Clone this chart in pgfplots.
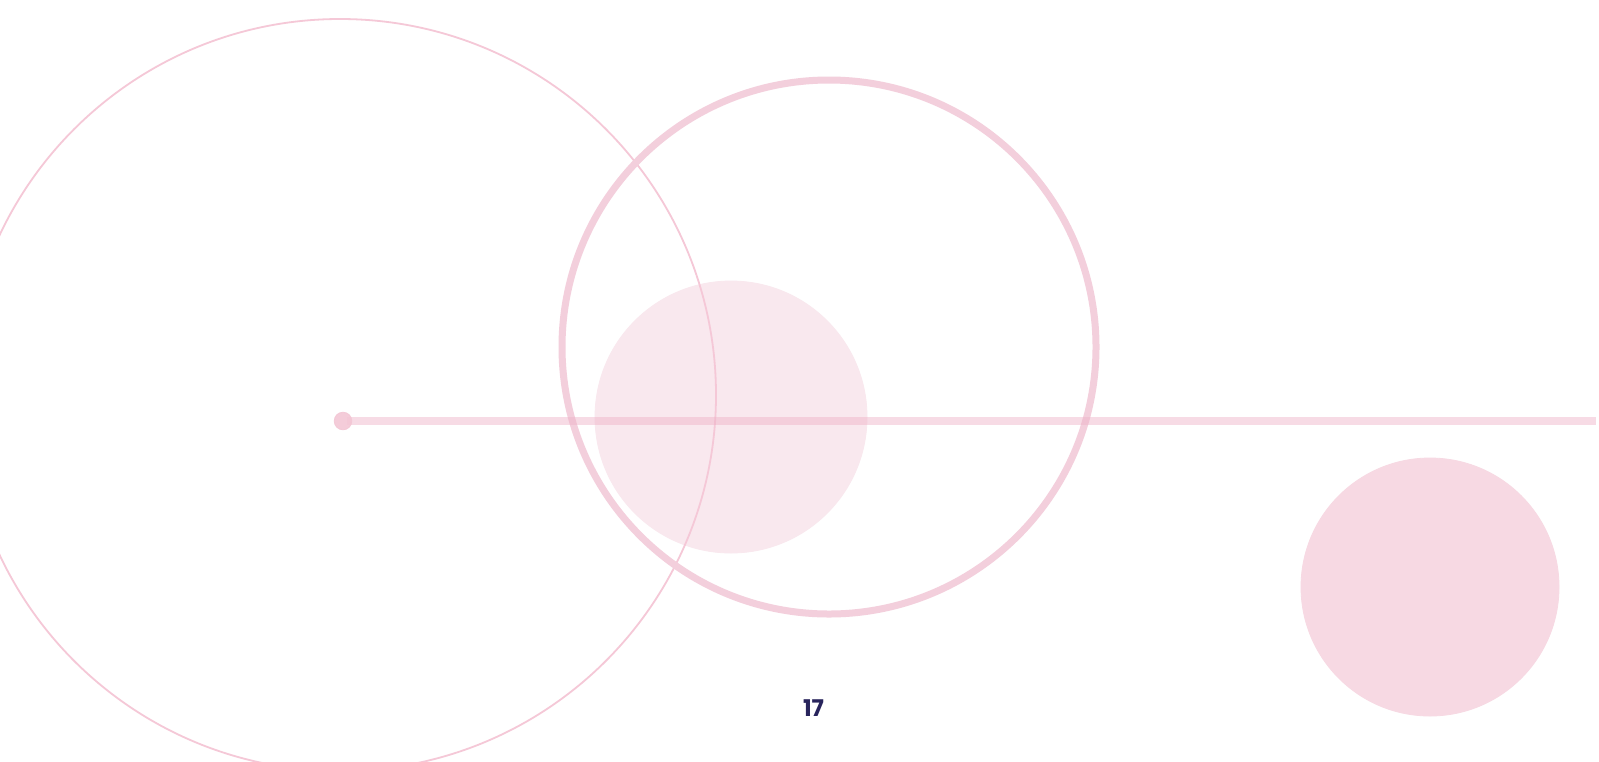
\documentclass[border=0pt]{standalone}
\usepackage{fontspec}
\setmainfont{Poppins}
\usepackage{pgfplots}
\pgfplotsset{compat=1.18}

\definecolor{ringpink}{RGB}{243,207,220}
\definecolor{thinpink}{RGB}{245,200,215}
\definecolor{softpink}{RGB}{249,232,238}
\definecolor{linepink}{RGB}{238,176,198}
\definecolor{dotpink}{RGB}{243,199,213}
\definecolor{bigdot}{RGB}{247,217,227}
\definecolor{navy}{RGB}{40,36,92}

\begin{document}
\begin{tikzpicture}
\begin{axis}[
  scale only axis,
  width=799.5pt, height=380.5pt,
  xmin=0, xmax=1599, ymin=0, ymax=761,
  y dir=reverse,
  xtick=\empty, ytick=\empty,
  axis line style={draw=none},
  axis background/.style={fill=white},
  clip marker paths=true,
]
% soft filled circle behind the line
\addplot[only marks, mark=*, mark size=68pt, color=softpink] coordinates {(731,417)};
% large thin outline circle (mostly off the left edge)
\addplot[only marks, mark=o, mark size=188pt, color=thinpink,
  mark options={line width=0.9pt}] coordinates {(340,395)};
% thick ring
\addplot[only marks, mark=o, mark size=133.5pt, color=ringpink,
  mark options={line width=3.5pt}] coordinates {(829,347)};
% horizontal bar
\addplot[linepink, line width=4pt, opacity=0.45] coordinates {(347,421) (1596,421)};
% small dot at the start of the bar
\addplot[only marks, mark=*, mark size=4.4pt, color=dotpink,
  mark options={opacity=0.9}] coordinates {(343,421)};
% big solid circle bottom right
\addplot[only marks, mark=*, mark size=64.5pt, color=bigdot] coordinates {(1430,587)};
% page number
\node[text=navy, font=\fontsize{11.5}{12}\selectfont\bfseries, inner sep=0pt]
  at (axis cs:813.5,708.5) {17};
\end{axis}
\pgfresetboundingbox
\useasboundingbox (current axis.south west) rectangle (current axis.north east);
\end{tikzpicture}
\end{document}
